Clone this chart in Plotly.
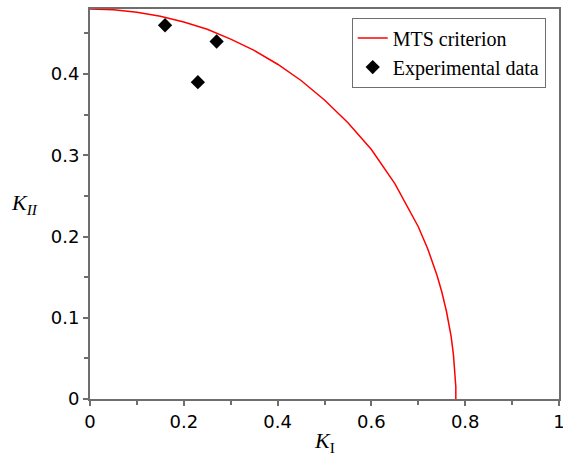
import plotly.graph_objects as go

# MTS criterion curve
mts_KI = [0, 0.05, 0.1, 0.15, 0.2, 0.25, 0.3, 0.35, 0.4, 0.45, 0.5, 0.55, 0.6,
          0.65, 0.7, 0.72, 0.74, 0.75, 0.76, 0.77, 0.775, 0.778, 0.78, 0.78]
mts_KII = [0.480, 0.479, 0.476, 0.471, 0.464, 0.455, 0.443, 0.429, 0.412, 0.392,
           0.368, 0.340, 0.307, 0.265, 0.212, 0.185, 0.152, 0.132, 0.108, 0.077,
           0.054, 0.034, 0.015, 0.0]

# Experimental data
exp_KI = [0.16, 0.27, 0.23]
exp_KII = [0.46, 0.44, 0.39]

xticks = [0, 0.2, 0.4, 0.6, 0.8, 1]
xticklabels = ["0", "0.2", "0.4", "0.6", "0.8", "1"]
yticks = [0, 0.1, 0.2, 0.3, 0.4]
yticklabels = ["0", "0.1", "0.2", "0.3", "0.4"]

fig = go.Figure()
fig.add_trace(go.Scatter(x=mts_KI, y=mts_KII, mode="lines", name="MTS criterion",
                         line=dict(color="#ff0000", width=1.5)))
fig.add_trace(go.Scatter(x=exp_KI, y=exp_KII, mode="markers", name="Experimental data",
                         marker=dict(symbol="diamond", color="black", size=11)))

axis_common = dict(showline=True, linecolor="#6e6e6e", linewidth=2, mirror=True,
                   ticks="outside", ticklen=5, tickcolor="#6e6e6e", tickwidth=1.5,
                   showgrid=False, zeroline=False, automargin=False,
                   ticklabeloverflow="allow",
                   tickfont=dict(family="DejaVu Sans", size=18, color="black"))

fig.update_layout(
    width=563, height=467,
    margin=dict(l=90, r=4, t=9, b=68, autoexpand=False),
    plot_bgcolor="white", paper_bgcolor="white",
    xaxis=dict(range=[0, 1], tickvals=xticks, ticktext=xticklabels,
               minor=dict(dtick=0.1, ticks="outside", ticklen=4, tickcolor="#6e6e6e"),
               **axis_common),
    yaxis=dict(range=[0, 0.48], tickvals=yticks, ticktext=yticklabels,
               minor=dict(dtick=0.05, ticks="outside", ticklen=4, tickcolor="#6e6e6e"),
               **axis_common),
    legend=dict(x=0.558, y=0.978, xanchor="left", yanchor="top",
                bordercolor="#6e6e6e", borderwidth=1, bgcolor="white",
                font=dict(family="Liberation Serif", size=20, color="black"),
                tracegroupgap=0, itemwidth=30),
    showlegend=True,
    annotations=[
        dict(text="<i>K</i><sub>I</sub>", xref="paper", yref="paper",
             x=0.5, y=-0.07, xanchor="center", yanchor="top", showarrow=False,
             font=dict(family="Liberation Serif", size=22, color="black")),
        dict(text="<i>K</i><sub><i>II</i></sub>", xref="paper", yref="paper",
             x=-0.14, y=0.5, xanchor="center", yanchor="middle", showarrow=False,
             font=dict(family="Liberation Serif", size=22, color="black")),
    ],
)

fig.write_html("out.html", config={"displayModeBar": False},
               post_script="document.body.style.margin='0';document.body.style.overflow='hidden';")
